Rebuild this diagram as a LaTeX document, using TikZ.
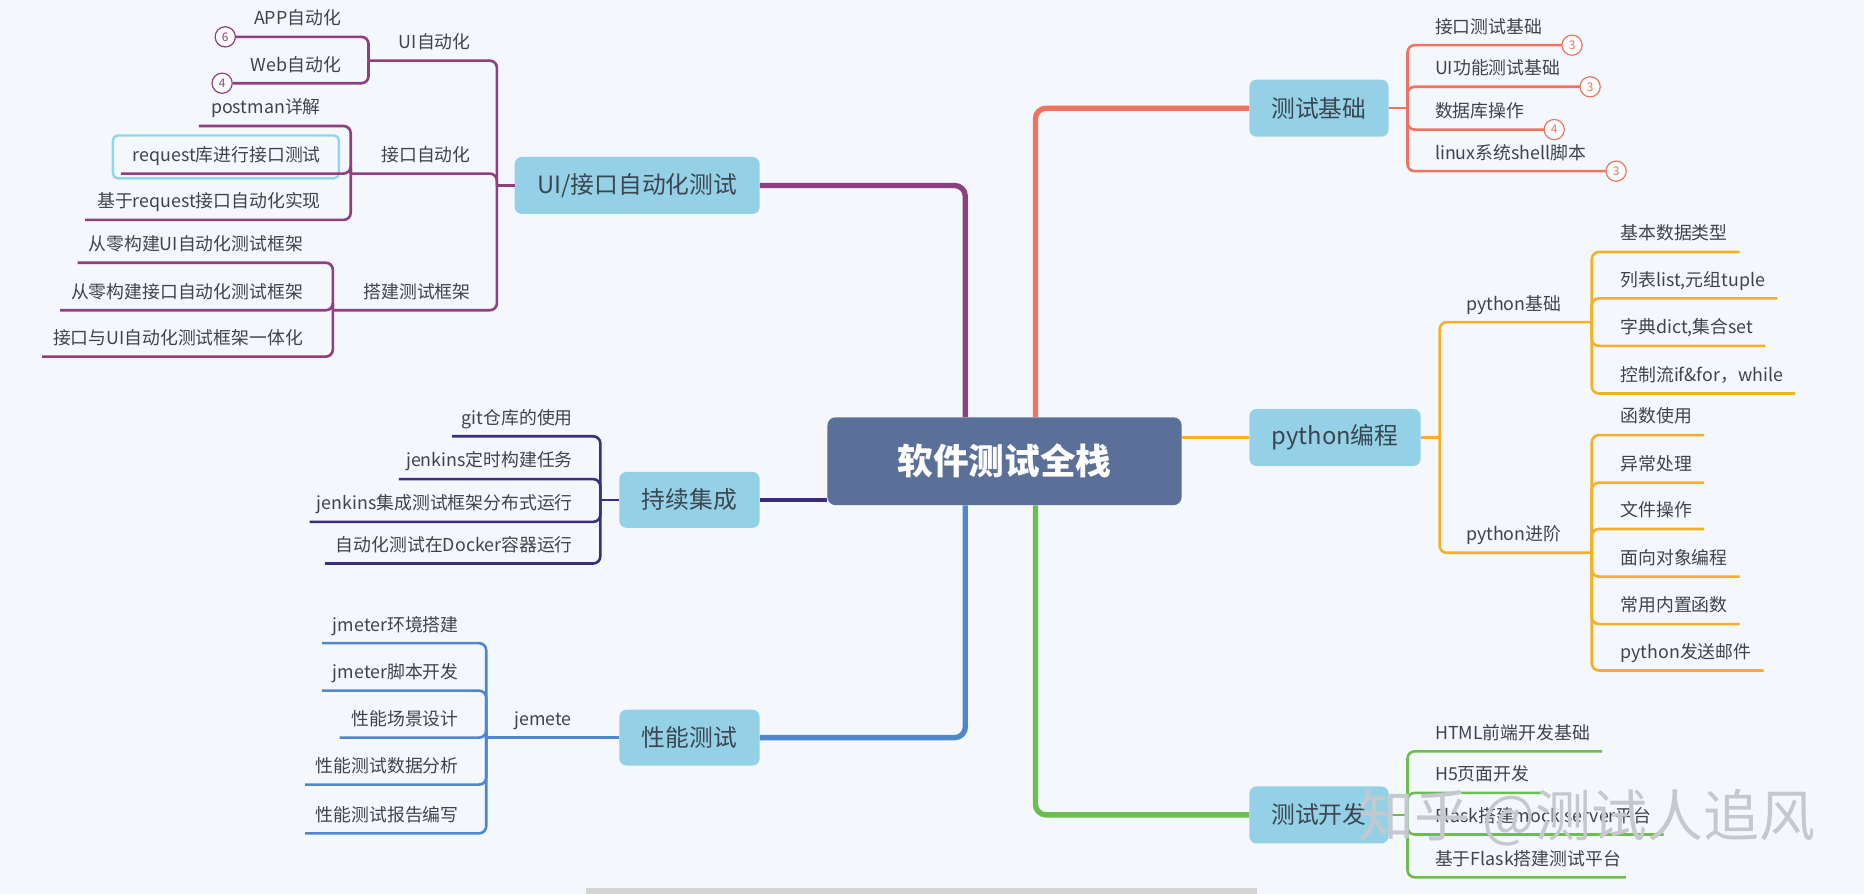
\documentclass[tikz,border=0pt]{standalone}
\usepackage{fontspec}
\setmainfont{Noto Sans CJK SC}
\usepackage{tikz}
\usetikzlibrary{positioning}
\definecolor{bgcol}{HTML}{F4F8FC}
\definecolor{topicfill}{HTML}{94D1E7}
\definecolor{topictext}{HTML}{3B4650}
\definecolor{rootfill}{HTML}{5A7098}
\definecolor{leaftext}{HTML}{404347}
\definecolor{cred}{HTML}{F0735F}
\definecolor{cyellow}{HTML}{F5B025}
\definecolor{cgreen}{HTML}{6CBE4F}
\definecolor{cblue}{HTML}{4F87CF}
\definecolor{cpurple}{HTML}{8D3F80}
\definecolor{cindigo}{HTML}{3D2C7C}
\definecolor{selcol}{HTML}{8CD8F2}
\definecolor{barcol}{HTML}{D4D4D4}
\definecolor{wmcol}{HTML}{C5C9CD}

\begin{document}
\begin{tikzpicture}[x=1pt,y=-1pt,
  root/.style={fill=rootfill,text=white,rounded corners=7pt,minimum width=298pt,minimum height=74pt,font=\fontsize{30}{36}\selectfont\bfseries},
  topic/.style={fill=topicfill,text=topictext,rounded corners=6pt,minimum height=48pt,font=\fontsize{20}{24}\selectfont},
  leaf/.style={text=leaftext,font=\fontsize{15}{18}\selectfont,inner xsep=0pt,inner ysep=10pt,text height=11pt,text depth=0pt},
  badge/.style={circle,draw=#1,text=#1,fill=white,line width=1pt,minimum size=17pt,inner sep=0pt,font=\fontsize{10}{10}\selectfont},
  trunk/.style={line width=4.5pt,rounded corners=9pt},
  conn/.style={line width=2.2pt,rounded corners=6pt},
  selbox/.style={draw=selcol,line width=2pt,rounded corners=4pt}]
  \fill[bgcol] (0,0) rectangle (1568,752);
  \useasboundingbox (0,0) rectangle (1568,752);
  \fill[barcol] (493,747) rectangle (1057,752);

  % root and main topics
  \node[root] (root) at (845,388) {软件测试全栈};
  \node[topic,minimum width=117pt] (base) at (1109.5,91) {测试基础};
  \node[topic,minimum width=144pt] (py) at (1123,368) {python编程};
  \node[topic,minimum width=117pt] (dev) at (1109.5,685.5) {测试开发};
  \node[topic,minimum width=206pt] (auto) at (536,156) {UI/接口自动化测试};
  \node[topic,minimum width=118pt,minimum height=47pt] (ci) at (580,420.5) {持续集成};
  \node[topic,minimum width=118pt,minimum height=47pt] (perf) at (580,620.5) {性能测试};

  \draw[trunk,cred] ([xshift=26pt]root.north) |- (base.west);
  \draw[trunk,cgreen] ([xshift=26pt]root.south) |- (dev.west);
  \draw[trunk,cpurple] ([xshift=-33pt]root.north) |- (auto.east);
  \draw[trunk,cblue] ([xshift=-33pt]root.south) |- (perf.east);
  \draw[conn,cyellow,line width=3pt] (root.east |- py.west) -- (py.west);
  \draw[conn,cindigo,line width=3pt] (root.west |- ci.east) -- (ci.east);

  % 测试基础
  \coordinate (bj) at (1184,91);
  \draw[conn,cred] (base.east) -- (bj);
  \node[leaf,anchor=south west] (b1) at (1207,38) {接口测试基础};
  \node[leaf,anchor=south west] (b2) at (1207,73) {UI功能测试基础};
  \node[leaf,anchor=south west] (b3) at (1207,109) {数据库操作};
  \node[leaf,anchor=south west] (b4) at (1207,144) {linux系统shell脚本};
  \draw[conn,cred] (bj) |- ([xshift=17pt]b1.south east);
  \draw[conn,cred] (bj) |- ([xshift=17pt]b2.south east);
  \draw[conn,cred] (bj) |- ([xshift=17pt]b3.south east);
  \draw[conn,cred] (bj) |- ([xshift=17pt]b4.south east);
  \node[badge=cred] (n1) at ([xshift=25pt]b1.south east) {3};
  \node[badge=cred] (n2) at ([xshift=25pt]b2.south east) {3};
  \node[badge=cred] (n3) at ([xshift=25pt]b3.south east) {4};
  \node[badge=cred] (n4) at ([xshift=25pt]b4.south east) {3};

  % python编程
  \coordinate (pj) at (1211,368);
  \coordinate (pbj) at (1339,271);
  \coordinate (paj) at (1339,465);
  \draw[conn,cyellow] (py.east) -- (pj);
  \draw[conn,cyellow] (pj) |- (pbj);
  \draw[conn,cyellow] (pj) |- (paj);
  \node[leaf,anchor=south west] (pb) at (1233,271) {python基础};
  \node[leaf,anchor=south west] (pa) at (1233,465) {python进阶};
  \node[leaf,anchor=south west] (p1) at (1363,212) {基本数据类型};
  \node[leaf,anchor=south west] (p2) at (1363,251) {列表list,元组tuple};
  \node[leaf,anchor=south west] (p3) at (1363,291) {字典dict,集合set};
  \node[leaf,anchor=south west] (p4) at (1363,331) {控制流if\&for，while};
  \draw[conn,cyellow] (pbj) |- ([xshift=10pt]p1.south east);
  \draw[conn,cyellow] (pbj) |- ([xshift=10pt]p2.south east);
  \draw[conn,cyellow] (pbj) |- ([xshift=10pt]p3.south east);
  \draw[conn,cyellow] (pbj) |- ([xshift=10pt]p4.south east);
  \node[leaf,anchor=south west] (p5) at (1363,366) {函数使用};
  \node[leaf,anchor=south west] (p6) at (1363,406) {异常处理};
  \node[leaf,anchor=south west] (p7) at (1363,445) {文件操作};
  \node[leaf,anchor=south west] (p8) at (1363,485) {面向对象编程};
  \node[leaf,anchor=south west] (p9) at (1363,525) {常用内置函数};
  \node[leaf,anchor=south west] (p10) at (1363,564) {python发送邮件};
  \draw[conn,cyellow] (paj) |- ([xshift=10pt]p5.south east);
  \draw[conn,cyellow] (paj) |- ([xshift=10pt]p6.south east);
  \draw[conn,cyellow] (paj) |- ([xshift=10pt]p7.south east);
  \draw[conn,cyellow] (paj) |- ([xshift=10pt]p8.south east);
  \draw[conn,cyellow] (paj) |- ([xshift=10pt]p9.south east);
  \draw[conn,cyellow] (paj) |- ([xshift=10pt]p10.south east);

  % 测试开发
  \coordinate (dj) at (1184,685.5);
  \draw[conn,cgreen] (dev.east) -- (dj);
  \node[leaf,anchor=south west] (d1) at (1207,632) {HTML前端开发基础};
  \node[leaf,anchor=south west] (d2) at (1207,667) {H5页面开发};
  \node[leaf,anchor=south west] (d3) at (1207,702) {Flask搭建mock server平台};
  \node[leaf,anchor=south west] (d4) at (1207,738) {基于Flask搭建测试平台};
  \draw[conn,cgreen] (dj) |- ([xshift=10pt]d1.south east);
  \draw[conn,cgreen] (dj) |- ([xshift=10pt]d2.south east);
  \draw[conn,cgreen] (dj) |- ([xshift=10pt]d3.south east);
  \draw[conn,cgreen] (dj) |- ([xshift=4pt]d4.south east);

  % UI/接口自动化测试
  \coordinate (aj) at (418,156);
  \coordinate (a1j) at (310,51);
  \coordinate (a2j) at (295,146);
  \coordinate (a3j) at (280,261);
  \draw[conn,cpurple] (auto.west) -- (aj);
  \draw[conn,cpurple] (aj) |- (a1j);
  \draw[conn,cpurple] (aj) |- (a2j);
  \draw[conn,cpurple] (aj) |- (a3j);
  \node[leaf,anchor=south east] (a1) at (396,51) {UI自动化};
  \node[leaf,anchor=south east] (a2) at (396,146) {接口自动化};
  \node[leaf,anchor=south east] (a3) at (396,261) {搭建测试框架};
  \node[leaf,anchor=south east] (u1) at (287,31) {APP自动化};
  \node[leaf,anchor=south east] (u2) at (287,70) {Web自动化};
  \node[badge=cpurple] (n6) at ([xshift=-24pt]u1.south west) {6};
  \node[badge=cpurple] (n7) at ([xshift=-24pt]u2.south west) {4};
  \draw[conn,cpurple] (a1j) |- (n6.east);
  \draw[conn,cpurple] (a1j) |- (n7.east);
  \draw[selbox] (95,114) rectangle (285,150);
  \node[leaf,anchor=south east] (q1) at (270,106) {postman详解};
  \node[leaf,anchor=south east] (q2) at (270,146) {request库进行接口测试};
  \node[leaf,anchor=south east] (q3) at (270,185) {基于request接口自动化实现};
  \draw[conn,cpurple] (a2j) |- ([xshift=-10pt]q1.south west);
  \draw[conn,cpurple] (a2j) |- ([xshift=-10pt]q2.south west);
  \draw[conn,cpurple] (a2j) |- ([xshift=-10pt]q3.south west);
  \node[leaf,anchor=south east] (f1) at (255,221) {从零构建UI自动化测试框架};
  \node[leaf,anchor=south east] (f2) at (255,261) {从零构建接口自动化测试框架};
  \node[leaf,anchor=south east] (f3) at (255,300) {接口与UI自动化测试框架一体化};
  \draw[conn,cpurple] (a3j) |- ([xshift=-9pt]f1.south west);
  \draw[conn,cpurple] (a3j) |- ([xshift=-9pt]f2.south west);
  \draw[conn,cpurple] (a3j) |- ([xshift=-9pt]f3.south west);

  % 持续集成
  \coordinate (cj) at (505,420.5);
  \draw[conn,cindigo] (ci.west) -- (cj);
  \node[leaf,anchor=south east] (c1) at (482,367) {git仓库的使用};
  \node[leaf,anchor=south east] (c2) at (482,403) {jenkins定时构建任务};
  \node[leaf,anchor=south east] (c3) at (482,439) {jenkins集成测试框架分布式运行};
  \node[leaf,anchor=south east] (c4) at (482,474) {自动化测试在Docker容器运行};
  \draw[conn,cindigo] (cj) |- ([xshift=-8pt]c1.south west);
  \draw[conn,cindigo] (cj) |- ([xshift=-6pt]c2.south west);
  \draw[conn,cindigo] (cj) |- ([xshift=-6pt]c3.south west);
  \draw[conn,cindigo] (cj) |- ([xshift=-9pt]c4.south west);

  % 性能测试
  \coordinate (jj) at (409,620.5);
  \draw[conn,cblue] (perf.west) -- (jj);
  \node[leaf,anchor=south east] (jm) at (481,620.5) {jemete};
  \node[leaf,anchor=south east] (m1) at (386,541) {jmeter环境搭建};
  \node[leaf,anchor=south east] (m2) at (386,581) {jmeter脚本开发};
  \node[leaf,anchor=south east] (m3) at (386,620.5) {性能场景设计};
  \node[leaf,anchor=south east] (m4) at (386,660) {性能测试数据分析};
  \node[leaf,anchor=south east] (m5) at (386,701) {性能测试报告编写};
  \draw[conn,cblue] (jj) |- ([xshift=-9pt]m1.south west);
  \draw[conn,cblue] (jj) |- ([xshift=-9pt]m2.south west);
  \draw[conn,cblue] (jj) |- ([xshift=-10pt]m3.south west);
  \draw[conn,cblue] (jj) |- ([xshift=-9pt]m4.south west);
  \draw[conn,cblue] (jj) |- ([xshift=-9pt]m5.south west);

  \node[text=wmcol,font=\fontsize{47}{50}\selectfont] (wm) at (1335,688) {知乎 @测试人追风};
\end{tikzpicture}
\end{document}
